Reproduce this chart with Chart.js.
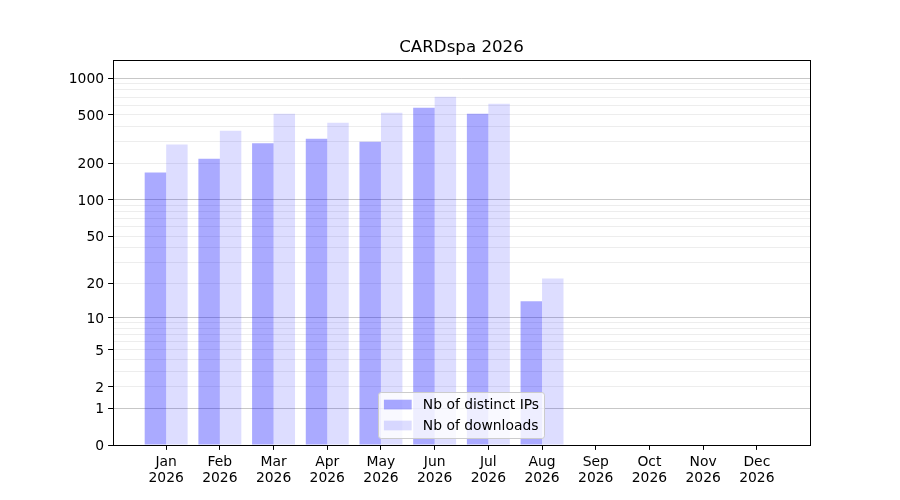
<!DOCTYPE html>
<html>
<head>
<meta charset="utf-8">
<title>CARDspa 2026</title>
<script src="https://cdn.jsdelivr.net/npm/chart.js@4.4.1/dist/chart.umd.min.js"></script>
<style>
  html, body { margin: 0; padding: 0; background: #fff; }
  #wrap { width: 900px; height: 500px; }
</style>
</head>
<body>
<div id="wrap"><canvas id="chart" width="900" height="500"></canvas></div>
<script>
// --- data ---
const MONTHS = ['Jan', 'Feb', 'Mar', 'Apr', 'May', 'Jun', 'Jul', 'Aug', 'Sep', 'Oct', 'Nov', 'Dec'];
const YEAR = '2026';
const DISTINCT_IPS = [168, 218, 292, 318, 301, 572, 511, 14];
const DOWNLOADS = [285, 370, 511, 431, 520, 703, 617, 22];
const Y_LABELED = [0, 1, 2, 5, 10, 20, 50, 100, 200, 500, 1000];
const Y_MAJOR = [1, 10, 100, 1000];
const Y_GRID = [0, 1, 2, 3, 4, 5, 6, 7, 8, 9, 10, 20, 30, 40, 50, 60, 70, 80, 90,
  100, 200, 300, 400, 500, 600, 700, 800, 900, 1000];
const Y_MAX = 1406;

const FONT = 'DejaVu Sans';
const FS = 13.89;
const IP_COLOR = 'rgba(0,0,255,0.333)';
const DL_COLOR = 'rgba(0,0,255,0.135)';

// y axis on log10(v + 1)
class Log1pScale extends Chart.LinearScale {
  static id = 'log1p';
  static defaults = {};
  buildTicks() {
    return Y_GRID.map(v => ({ value: v }));
  }
  configure() {
    super.configure();
    this._tStart = Math.log10(this.min + 1);
    this._tRange = Math.log10(this.max + 1) - this._tStart;
  }
  getPixelForValue(v) {
    return this.getPixelForDecimal((Math.log10(v + 1) - this._tStart) / this._tRange);
  }
  getValueForPixel(p) {
    return Math.pow(10, this._tStart + this.getDecimalForPixel(p) * this._tRange) - 1;
  }
}
Chart.register(Log1pScale);

// frame + legend inside the plot, like matplotlib's
const framePlugin = {
  id: 'frame',
  afterDraw(chart) {
    const { ctx, chartArea: a } = chart;
    ctx.save();
    ctx.strokeStyle = '#000';
    ctx.lineWidth = 1;
    ctx.strokeRect(Math.round(a.left) + 0.5, Math.round(a.top) + 0.5,
      Math.round(a.right - a.left), Math.round(a.bottom - a.top));

    // legend
    ctx.font = FS + 'px "' + FONT + '"';
    const sets = chart.data.datasets;
    const textW = Math.max(...sets.map(d => ctx.measureText(d.label).width));
    const pad = 0.4 * FS, handleW = 2 * FS, handleH = 0.7 * FS, gap = 0.8 * FS;
    const rowH = 14, spacing = 0.5 * FS;
    const w = 2 * pad + handleW + gap + textW;
    const h = 2 * pad + sets.length * rowH + (sets.length - 1) * spacing;
    const x = (a.left + a.right) / 2 - w / 2;
    const y = a.bottom - 0.5 * FS - h;
    ctx.beginPath();
    ctx.roundRect(Math.round(x) + 0.5, Math.round(y) + 0.5, Math.round(w), Math.round(h), 2.7);
    ctx.fillStyle = 'rgba(255,255,255,0.8)';
    ctx.fill();
    ctx.strokeStyle = '#cccccc';
    ctx.stroke();
    ctx.textBaseline = 'middle';
    ctx.textAlign = 'left';
    sets.forEach((d, i) => {
      const cy = y + pad + i * (rowH + spacing) + rowH / 2;
      ctx.fillStyle = d.backgroundColor;
      ctx.fillRect(x + pad, cy - handleH / 2, handleW, handleH);
      ctx.fillStyle = '#000';
      ctx.fillText(d.label, x + pad + handleW + gap, cy + 1);
    });
    ctx.restore();
  }
};

new Chart(document.getElementById('chart'), {
  type: 'bar',
  data: {
    datasets: [
      {
        label: 'Nb of distinct IPs',
        data: DISTINCT_IPS.map((v, i) => ({ x: i, y: v })),
        backgroundColor: IP_COLOR,
        borderWidth: 0,
        categoryPercentage: 0.8,
        barPercentage: 1.0,
      },
      {
        label: 'Nb of downloads',
        data: DOWNLOADS.map((v, i) => ({ x: i, y: v })),
        backgroundColor: DL_COLOR,
        borderWidth: 0,
        categoryPercentage: 0.8,
        barPercentage: 1.0,
      },
    ],
  },
  options: {
    responsive: false,
    animation: false,
    devicePixelRatio: 1,
    layout: { padding: { left: 0, right: 90, top: 0, bottom: 0 } },
    plugins: {
      legend: { display: false },
      tooltip: { enabled: false },
      title: {
        display: true,
        fullSize: false,
        text: 'CARDspa 2026',
        color: '#000',
        font: { family: FONT, size: 16.67, weight: 'normal', lineHeight: 1.2 },
        padding: { top: 38, bottom: 2 },
      },
    },
    scales: {
      x: {
        type: 'linear',
        offset: false,
        min: -0.99,
        max: 11.99,
        afterFit: s => { s.height = 55; },
        afterBuildTicks: s => { s.ticks = MONTHS.map((m, i) => ({ value: i })); },
        grid: { offset: false, drawOnChartArea: false, drawTicks: true, tickLength: 4.9, color: '#000', tickColor: '#000' },
        border: { display: false },
        ticks: {
          autoSkip: false,
          maxRotation: 0,
          padding: 4,
          color: '#000',
          font: { family: FONT, size: FS, lineHeight: 1.16 },
          callback: v => [MONTHS[v], YEAR],
        },
      },
      y: {
        type: 'log1p',
        min: 0,
        max: Y_MAX,
        afterFit: s => { s.width = 113; },
        grid: {
          drawTicks: true,
          tickLength: 4.9,
          lineWidth: 1,
          color: c => {
            const v = c.tick && c.tick.value;
            if (v === 0) return 'rgba(0,0,0,0)';
            return Y_MAJOR.includes(v) ? 'rgba(0,0,0,0.22)' : 'rgba(0,0,0,0.07)';
          },
          tickColor: c => (c.tick && Y_LABELED.includes(c.tick.value)) ? '#000' : 'rgba(0,0,0,0)',
        },
        border: { display: false },
        ticks: {
          autoSkip: false,
          padding: 4,
          labelOffset: 1.5,
          color: '#000',
          font: { family: FONT, size: FS },
          callback: v => Y_LABELED.includes(v) ? String(v) : '',
        },
      },
    },
  },
  plugins: [framePlugin],
});
</script>
</body>
</html>
